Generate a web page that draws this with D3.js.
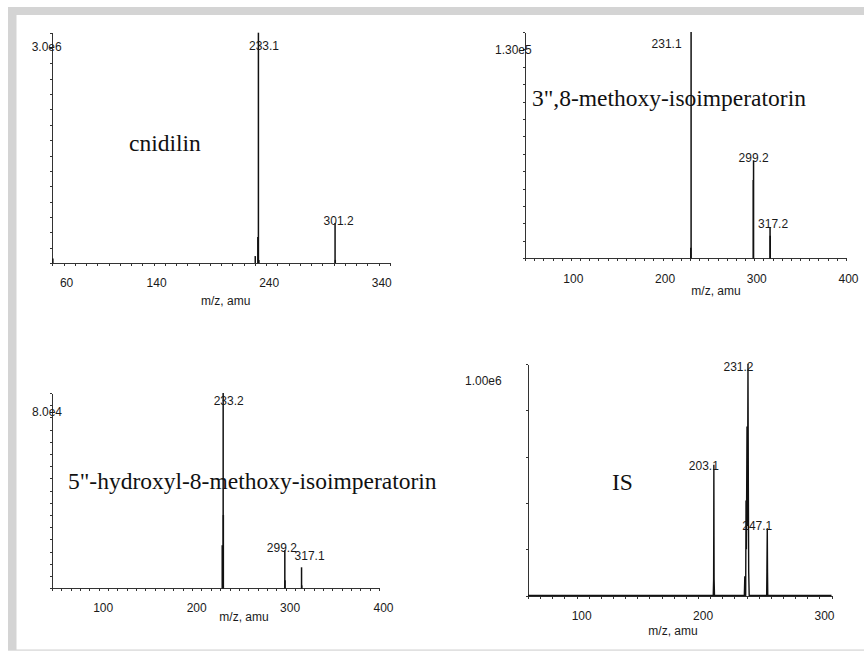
<!DOCTYPE html>
<html>
<head>
<meta charset="utf-8">
<script src="https://cdn.jsdelivr.net/npm/d3@7"></script>
<style>
  body { margin: 0; background: #fff; }
  .lbl { font-family: "Liberation Sans", Arial, sans-serif; font-size: 12px; fill: #1a1a1a; }
  .title { font-family: "Liberation Serif", "Times New Roman", serif; font-size: 23.5px; fill: #111; }
  .axis path, .axis line { stroke: #333; stroke-width: 1; shape-rendering: crispEdges; }
</style>
</head>
<body>
<svg id="chart" width="864" height="651"></svg>
<script>
// compound names shown inside each spectrum
const panelNames = ["cnidilin", "3\",8-methoxy-isoimperatorin", "5\"-hydroxyl-8-methoxy-isoimperatorin", "IS"]
const maxLabels = ["3.0e6", "1.30e5", "8.0e4", "1.00e6"]
const maxIntensity = [3.0e6, 1.30e5, 8.0e4, 1.0e6]
const mzRange = [[50, 350], [50, 400], [50, 400], [50, 300]]
const xTickLabels = [[60, 140, 240, 340], [100, 200, 300, 400], [100, 200, 300, 400], [100, 200, 300]]
const yTickStep = [2e5, 1e4, 5e3, 2e5]

// [m/z, intensity] sticks
const cnidilinPeaks = [[50.5, 6e4], [230.3, 9e4], [232.6, 3.4e5], [233.1, 3.0e6], [233.5, 4e4], [301.2, 5.2e5], [301.4, 4e4]]
const methoxyPeaks = [[230.8, 6e3], [231.1, 1.30e5], [298.9, 4.5e4], [299.2, 5.6e4], [317.2, 1.8e4], [317.4, 1.3e4]]
const hydroxylPeaks = [[232.2, 1.76e4], [233.2, 8.0e4], [233.4, 3.0e4], [299.2, 1.56e4], [299.4, 3.3e3], [317.1, 8.6e3], [317.3, 1.2e3]]
// internal standard, profile trace
const isProfile = [[50, 0], [202.0, 0], [202.6, 0], [202.9, 7e4], [203.0, 2.6e5], [203.1, 5.65e5], [203.2, 2.6e5], [203.3, 7e4], [203.6, 0],
    [228.2, 0], [228.6, 8.3e4], [228.9, 0], [229.3, 0], [229.6, 4.1e5], [229.9, 2e5], [230.4, 7.3e5], [230.8, 3e5], [231.2, 1.0e6],
    [231.5, 4.65e5], [231.8, 1e5], [232.2, 0], [246.6, 0], [246.8, 1.05e5], [247.1, 2.9e5], [247.3, 1e5], [247.5, 0], [300, 0]]

const peakLabels = [[233.1, 301.2], [231.1, 299.2, 317.2], [233.2, 299.2, 317.1], [231.2, 203.1, 247.1]]

const spectra = [cnidilinPeaks, methoxyPeaks, hydroxylPeaks, isProfile]

// pixel layout of the four plots
const layout = [
    {x0: 52.3, x1: 390, yTop: 32.7, yBase: 263, tickDx: 3, tickY: 287, axisTitle: [225.7, 305], maxLbl: [31.7, 51], title: [129, 151], lblOff: [[5.6, 17], [3.5, 2]]},
    {x0: 525, x1: 846, yTop: 32, yBase: 258.3, tickDx: 2.5, tickY: 283, axisTitle: [716, 295], maxLbl: [495, 54], title: [532, 106], lblOff: [[-24.5, 16], [0, 1], [3, 1]]},
    {x0: 52, x1: 379, yTop: 393, yBase: 588.3, tickDx: 4.5, tickY: 612, axisTitle: [244, 621], maxLbl: [32, 416], title: [68, 489], lblOff: [[5.5, 12], [-3, 2], [8, -7]]},
    {x0: 528, x1: 831.5, yTop: 364, yBase: 595.5, tickDx: -7, tickY: 620, axisTitle: [673, 635], maxLbl: [465, 385], title: [612, 490], lblOff: [[-9.5, 7], [-10, 5], [-10, 2]]}
]

var svg = d3.select("#chart")

// page frame
svg.append("rect").attr("x", 8).attr("y", 7).attr("width", 856).attr("height", 8).style("fill", "#d4d4d4")
svg.append("rect").attr("x", 8).attr("y", 7).attr("width", 8.5).attr("height", 643).style("fill", "#d4d4d4")
svg.append("rect").attr("x", 8).attr("y", 649.5).attr("width", 856).attr("height", 1.2).style("fill", "#d4d4d4")

layout.forEach(function (L, p) {
    let xs = d3.scaleLinear().domain(mzRange[p]).range([L.x0, L.x1])
    let ys = d3.scaleLinear().domain([0, maxIntensity[p]]).range([L.yBase, L.yTop])
    let g = svg.append("g")

    let xAxis = d3.axisBottom(xs)
        .tickValues(d3.range(mzRange[p][0], mzRange[p][1] + 1, 10))
        .tickSize(3).tickSizeOuter(0).tickFormat("")
    g.append("g").attr("class", "axis").attr("transform", "translate(0," + L.yBase + ")").call(xAxis)

    let yAxis = d3.axisLeft(ys)
        .tickValues(d3.range(0, maxIntensity[p] + 1, yTickStep[p]))
        .tickSize(2.5).tickSizeOuter(0).tickFormat("")
    g.append("g").attr("class", "axis").attr("transform", "translate(" + L.x0 + ",0)").call(yAxis)

    g.selectAll(".xl").data(xTickLabels[p]).enter().append("text")
        .attr("class", "lbl")
        .attr("x", d => xs(d) + L.tickDx)
        .attr("y", L.tickY)
        .style("text-anchor", "middle")
        .text(d => d)

    g.append("text").attr("class", "lbl")
        .attr("x", L.axisTitle[0]).attr("y", L.axisTitle[1])
        .style("text-anchor", "middle")
        .text("m/z, amu")

    let data = spectra[p]
    if (p == 3) {
        let line = d3.line().x(d => xs(d[0])).y(d => ys(d[1]))
        g.append("path").datum(data)
            .attr("d", line)
            .style("fill", "none").style("stroke", "#111").style("stroke-width", 1.4)
    } else {
        g.selectAll(".stick").data(data).enter().append("line")
            .attr("x1", d => xs(d[0])).attr("x2", d => xs(d[0]))
            .attr("y1", ys(0)).attr("y2", d => ys(d[1]))
            .style("stroke", "#111").style("stroke-width", 1.5)
    }

    g.append("text").attr("class", "lbl")
        .attr("x", L.maxLbl[0]).attr("y", L.maxLbl[1])
        .text(maxLabels[p])

    peakLabels[p].forEach(function (mz, i) {
        let top = d3.max(data.filter(d => Math.abs(d[0] - mz) < 0.25), d => d[1])
        g.append("text").attr("class", "lbl")
            .attr("x", xs(mz) + L.lblOff[i][0])
            .attr("y", ys(top) + L.lblOff[i][1])
            .style("text-anchor", "middle")
            .text(mz.toFixed(1))
    })

    g.append("text").attr("class", "title")
        .attr("x", L.title[0]).attr("y", L.title[1])
        .text(panelNames[p])
})
</script>
</body>
</html>
